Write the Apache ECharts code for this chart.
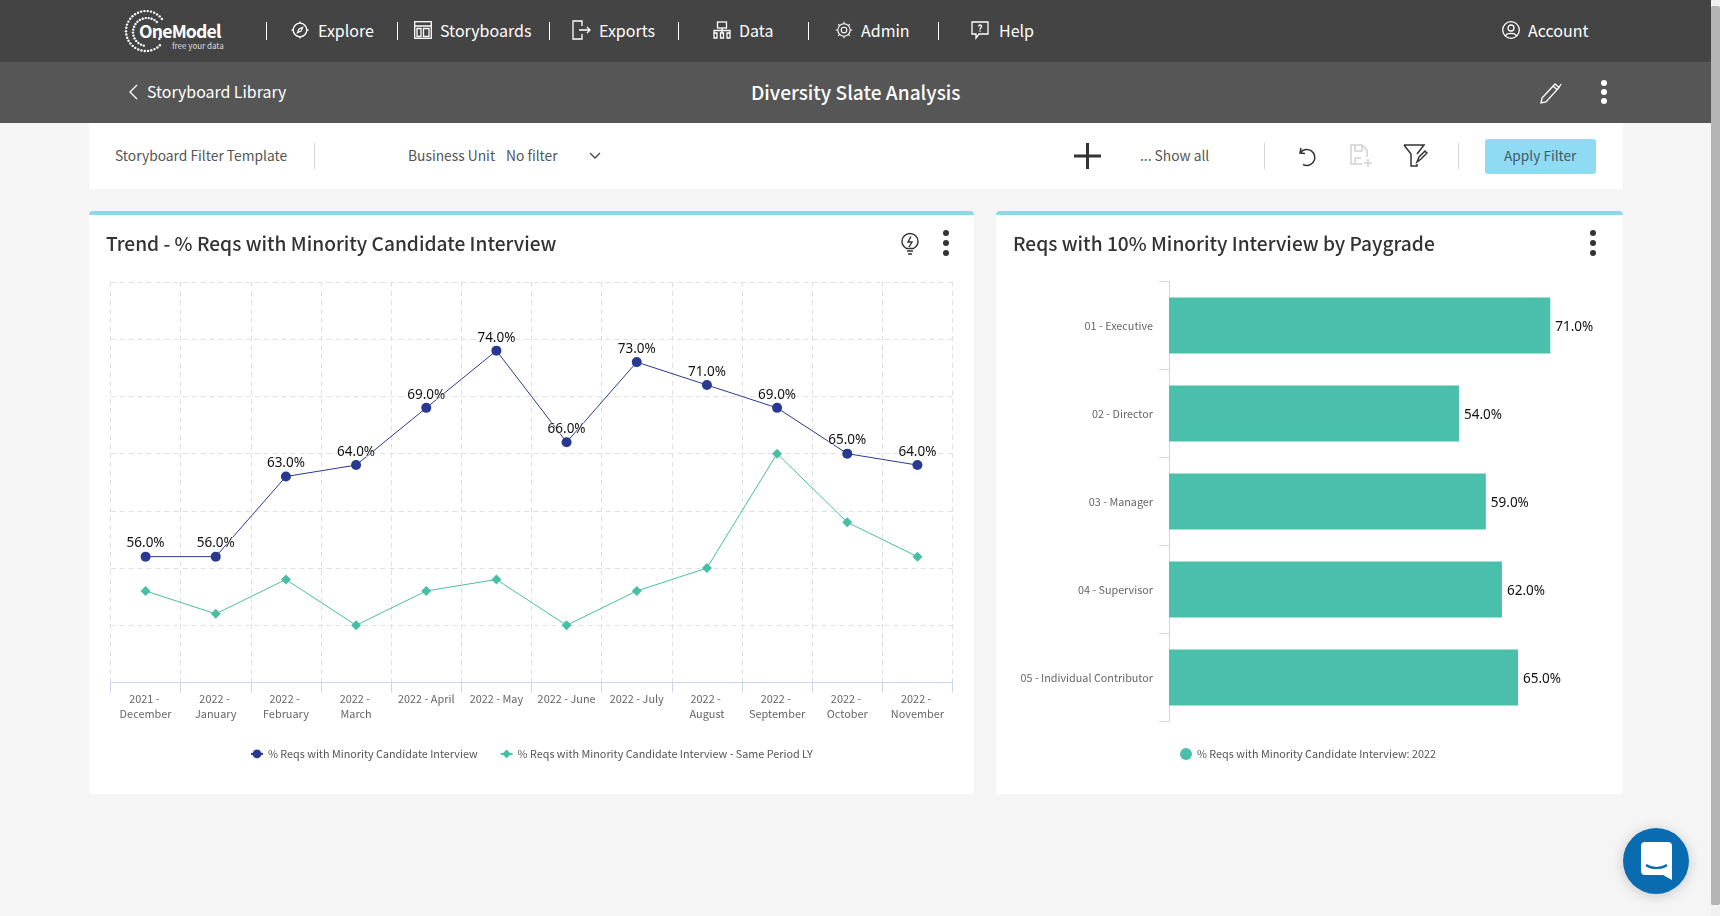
<!DOCTYPE html>
<html>
<head>
<meta charset="utf-8">
<title>Diversity Slate Analysis</title>
<script src="https://cdn.jsdelivr.net/npm/echarts@6/dist/echarts.min.js"></script>
<style>
html,body{margin:0;padding:0;width:1720px;height:916px;overflow:hidden;background:#f5f5f5;font-family:"Noto Sans CJK SC","Noto Sans",sans-serif;}
.abs,.t,.sep,svg.i{position:absolute;}
.t{white-space:nowrap;line-height:1;transform:translateY(-50%);}
#top1{position:absolute;left:0;top:0;width:1711px;height:62px;background:#444;}
#top2{position:absolute;left:0;top:62px;width:1711px;height:61px;background:#565656;}
#scroll{position:absolute;left:1711px;top:0;width:9px;height:916px;background:#f1f1f1;}
#thumb{position:absolute;left:1711px;top:6px;width:9px;height:899px;background:#b4b4b4;border-radius:2px;}
.nav{color:#fff;font-size:16px;top:30px;}
.sep{width:1px;background:#fff;top:22px;height:18px;}
.fsep{width:1px;background:#d5d5d5;top:143px;height:26px;}
.filter{color:#555;font-size:13.8px;top:155.5px;}
.card{position:absolute;background:#fff;top:211px;height:583px;border-radius:4px 4px 2px 2px;border-top:4px solid #8fd8ea;box-sizing:border-box;}
.title{color:#333;font-size:19.15px;font-weight:500;top:244px;}
.dot{position:absolute;width:6px;height:6px;border-radius:3px;}
#chartLeft{position:absolute;left:89px;top:215px;width:885px;height:579px;}
#chartRight{position:absolute;left:996px;top:215px;width:627px;height:579px;}
#chat{position:absolute;left:1623px;top:828px;width:66px;height:66px;border-radius:33px;background:#0a6cb0;box-shadow:0 2px 14px rgba(0,0,0,.18);}
svg.i{fill:none;stroke:#fff;stroke-width:1.3;}
</style>
</head>
<body>
<div id="top1"></div>
<div id="top2"></div>
<div id="scroll"></div>
<div id="thumb"></div>

<!-- 顶部导航 -->
<svg class="i" id="logoDots" style="left:124px;top:8px;stroke:none;fill:#fff" width="44" height="46"></svg>
<div class="t" style="left:139px;top:31px;color:#fff;font-size:17.6px;font-weight:700;letter-spacing:-0.8px">OneModel</div>
<div class="t" style="left:172px;top:46px;color:#ddd;font-size:8px">free your data</div>

<div class="sep" style="left:266px"></div>
<svg class="i" style="left:291px;top:21px" width="18" height="18" viewBox="0 0 18 18"><circle cx="9" cy="9" r="6.8"/><path d="M9 0.5v2M9 15.5v2M0.5 9h2M15.5 9h2M11.5 6.5L10 10 6.5 11.5 8 8z"/></svg>
<div class="t nav" style="left:318px">Explore</div>
<div class="sep" style="left:397px"></div>
<svg class="i" style="left:414px;top:21px" width="18" height="18" viewBox="0 0 18 18"><rect x="0.7" y="0.7" width="16.6" height="16.6"/><path d="M0.7 5h16.6M3 7.5h4v8H3zM9.5 7.5h5.500v8H9.500z"/></svg>
<div class="t nav" style="left:440px">Storyboards</div>
<div class="sep" style="left:549px"></div>
<svg class="i" style="left:572px;top:20px" width="20" height="20" viewBox="0 0 20 20"><path d="M10 6V1H1v18h9v-5M7 10h11M15 7l3 3-3 3"/></svg>
<div class="t nav" style="left:599px">Exports</div>
<div class="sep" style="left:678px"></div>
<svg class="i" style="left:713px;top:21px" width="18" height="18" viewBox="0 0 18 18"><rect x="4.500" y="1" width="9" height="6"/><path d="M1 12V9.500h16V12M9 7v5M1 12h3v5H1zM7.500 12h3v5h-3zM14 12h3v5h-3z"/></svg>
<div class="t nav" style="left:739px">Data</div>
<div class="sep" style="left:808px"></div>
<svg class="i" style="left:835px;top:21px;stroke-width:1.1" width="18" height="18" viewBox="0 0 18 18"><circle cx="9" cy="9" r="2.800"/><circle cx="9" cy="9" r="6.200"/><path d="M9 .8v2M9 15.200v2M.8 9h2M15.200 9h2M3.200 3.200l1.400 1.400M13.400 13.400l1.400 1.400M14.800 3.200l-1.400 1.400M4.600 13.400l-1.400 1.400"/></svg>
<div class="t nav" style="left:861px">Admin</div>
<div class="sep" style="left:938px"></div>
<svg class="i" style="left:971px;top:21px" width="18" height="19" viewBox="0 0 18 19"><path d="M1 1h16v12H8l-3 4v-4H1z"/><path d="M7.500 5.500c0-2 3-2 3 0 0 1.300-1.500 1.300-1.500 3M9 9.500v1.200"/></svg>
<div class="t nav" style="left:999px">Help</div>
<svg class="i" style="left:1502px;top:21px" width="18" height="18" viewBox="0 0 18 18"><circle cx="9" cy="9" r="8.300"/><circle cx="9" cy="7" r="3"/><path d="M3.500 15c1-3.500 10-3.500 11 0"/></svg>
<div class="t nav" style="left:1528px">Account</div>

<!-- 第二栏 -->
<svg class="i" style="left:127px;top:84px" width="12" height="16" viewBox="0 0 12 16"><path d="M10 1L3 8l7 7"/></svg>
<div class="t" style="left:147px;top:92px;color:#fff;font-size:15.9px">Storyboard Library</div>
<div class="t" style="left:751px;top:93px;color:#fff;font-size:19.1px;font-weight:500">Diversity Slate Analysis</div>
<svg class="i" style="left:1540px;top:82px" width="23" height="22" viewBox="0 0 23 22"><path d="M1 21l1-5L15 2l4 3.500L6 20zM13 4l4.500 4M19 5.500L21 2"/></svg>
<div class="dot" style="left:1601px;top:80px;background:#fff"></div>
<div class="dot" style="left:1601px;top:89px;background:#fff"></div>
<div class="dot" style="left:1601px;top:98px;background:#fff"></div>

<!-- 过滤栏 -->
<div class="abs" style="left:89px;top:123px;width:1534px;height:66px;background:#fff"></div>
<div class="t filter" style="left:115px">Storyboard Filter Template</div>
<div class="sep fsep" style="left:314px"></div>
<div class="t filter" style="left:408px">Business Unit</div>
<div class="t filter" style="left:506px">No filter</div>
<svg class="i" style="left:589px;top:152px;stroke:#444" width="12" height="8" viewBox="0 0 12 8"><path d="M1 1l5 5 5-5"/></svg>
<svg class="i" style="left:1074px;top:143px;stroke:#333;stroke-width:3" width="27" height="26" viewBox="0 0 27 26"><path d="M0 13h27M13.500 0v26"/></svg>
<div class="t filter" style="left:1140px">... Show all</div>
<div class="sep fsep" style="left:1264px"></div>
<svg class="i" style="left:1296px;top:145px;stroke:#333;stroke-width:1.500" width="21" height="22" viewBox="0 0 21 22"><path d="M5 3l-1 5 5 .5M4.500 7.500A8 8 0 1 1 7 19.500"/></svg>
<svg class="i" style="left:1350px;top:144px;stroke:#d2d2d2;stroke-width:1.500" width="24" height="24" viewBox="0 0 24 24"><path d="M12 20H1V1h11l5 5v7M5 1v6h7V1M5 20v-6h6M18 15v8M14 19h8"/></svg>
<svg class="i" style="left:1403px;top:144px;stroke:#333;stroke-width:1.500" width="25" height="24" viewBox="0 0 25 24"><path d="M1 1h20l-7 9M1 1l7 9v12h6v-2M14 18l2-5 6-6 2 2-6 6z"/></svg>
<div class="sep fsep" style="left:1458px"></div>
<div class="abs" style="left:1485px;top:139px;width:111px;height:35px;background:#8fdbf3;border-radius:3px"></div>
<div class="t" style="left:1504px;top:155.5px;color:#3f5a68;font-size:13.7px">Apply Filter</div>

<!-- 卡片 -->
<div class="card" style="left:89px;width:885px"></div>
<div class="card" style="left:996px;width:627px"></div>
<div id="chartLeft"></div>
<div id="chartRight"></div>
<div class="t title" style="left:106px">Trend - % Reqs with Minority Candidate Interview</div>
<div class="t title" style="left:1013px">Reqs with 10% Minority Interview by Paygrade</div>
<svg class="i" style="left:901px;top:232px;stroke:#333;stroke-width:1.400" width="18" height="24" viewBox="0 0 18 24"><path d="M5.500 16.500C3 15 1 12.500 1 9.500a8 8 0 0 1 16 0c0 3-2 5.500-4.500 7zM6 19h6M7 22h4M10 4.500L7 10h4l-3 5"/></svg>
<div class="dot" style="left:943px;top:230px;background:#333"></div>
<div class="dot" style="left:943px;top:240px;background:#333"></div>
<div class="dot" style="left:943px;top:250px;background:#333"></div>
<div class="dot" style="left:1590px;top:230px;background:#333"></div>
<div class="dot" style="left:1590px;top:240px;background:#333"></div>
<div class="dot" style="left:1590px;top:250px;background:#333"></div>

<div id="chat"></div>
<svg class="i" style="left:1641px;top:842px;stroke:none;fill:#fff" width="31" height="38" viewBox="0 0 31 38"><path d="M4 0h23a4 4 0 0 1 4 4v34l-9-5H4a4 4 0 0 1-4-4V4a4 4 0 0 1 4-4z"/><path d="M5 23c6 4 15 4 21 0" fill="none" stroke="#0a6cb0" stroke-width="2.200"/></svg>

<script>
//趋势图数据
var months = ["2021 - December","2022 - January","2022 - February","2022 - March","2022 - April","2022 - May","2022 - June","2022 - July","2022 - August","2022 - September","2022 - October","2022 - November"];
var reqsInterview = [56,56,63,64,69,74,66,73,71,69,65,64];
var reqsSamePeriodLY = [53,51,54,50,53,54,50,53,55,65,59,56];
//职级图数据
var paygrades = ["01 - Executive","02 - Director","03 - Manager","04 - Supervisor","05 - Individual Contributor"];
var paygradeValues = [71,54,59,62,65];

var FONT = '"Noto Sans CJK SC"';

$init();

function $init() {
	drawLogo();
	initChart_line("chartLeft");
	initChart_bar("chartRight");
}
/**
 * 折线图
 */
function initChart_line(selector) {
	var myChart = echarts.init(document.getElementById(selector));
	var option = {
		animation: false,
		textStyle: {fontFamily: FONT},
		legend: {
			left: 161,
			top: 533.5,
			itemWidth: 12,
			itemHeight: 11,
			itemGap: 22,
			padding: 0,
			textStyle: {fontFamily: FONT, fontSize: 10.8, color: '#555'},
			data: ['% Reqs with Minority Candidate Interview','% Reqs with Minority Candidate Interview - Same Period LY']
		},
		grid: {left: 21.5, top: 67, width: 842, height: 400.5, containLabel: false},
		xAxis: {
			type: 'category',
			data: months,
			axisLine: {show: true, lineStyle: {color: '#ccd6eb', width: 1}},
			axisTick: {show: true, length: 10, lineStyle: {color: '#ccd6eb'}},
			axisLabel: {interval: 0, margin: 9, width: 58, overflow: 'break', lineHeight: 15, fontFamily: FONT, fontSize: 10.9, color: '#666'},
			splitLine: {show: true, lineStyle: {color: '#e0e0e0', type: [5,4], width: 1}}
		},
		yAxis: {
			type: 'value',
			min: 45,
			max: 80,
			interval: 5,
			axisLine: {show: false},
			axisTick: {show: false},
			axisLabel: {show: false},
			splitLine: {lineStyle: {color: '#e0e0e0', type: [5,4], width: 1}}
		},
		series: [
			{
				name: '% Reqs with Minority Candidate Interview',
				type: 'line',
				data: reqsInterview,
				symbol: 'circle',
				symbolSize: 10,
				z: 3,
				lineStyle: {color: '#2a3990', width: 1},
				itemStyle: {color: '#2a3990'},
				label: {
					show: true,
					position: 'top',
					distance: 1,
					formatter: function(p) { return p.value.toFixed(1) + '%'; },
					fontFamily: '"Noto Sans"',
					fontSize: 13.5,
					color: '#111',
					textBorderColor: '#fff',
					textBorderWidth: 1
				}
			},
			{
				name: '% Reqs with Minority Candidate Interview - Same Period LY',
				type: 'line',
				data: reqsSamePeriodLY,
				symbol: 'diamond',
				symbolSize: 10,
				z: 2,
				lineStyle: {color: '#47bfa5', width: 1},
				itemStyle: {color: '#47bfa5'}
			}
		]
	};
	myChart.setOption(option, true);
}
/**
 * 柱状图
 */
function initChart_bar(selector) {
	var myChart = echarts.init(document.getElementById(selector));
	var option = {
		animation: false,
		textStyle: {fontFamily: FONT},
		legend: {
			left: 184,
			top: 533,
			itemWidth: 12,
			itemHeight: 12,
			padding: 0,
			icon: 'circle',
			textStyle: {fontFamily: FONT, fontSize: 10.8, color: '#555'}
		},
		grid: {left: 173, top: 66.5, width: 429.6, height: 440},
		xAxis: {
			type: 'value',
			min: 0,
			max: 80,
			show: false
		},
		yAxis: {
			type: 'category',
			inverse: true,
			data: paygrades,
			axisLine: {show: true, lineStyle: {color: '#ccd6eb', width: 1}},
			axisTick: {show: true, length: 10, lineStyle: {color: '#d8d8d8'}},
			axisLabel: {margin: 16, fontFamily: FONT, fontSize: 10.8, color: '#666'}
		},
		series: [
			{
				name: '% Reqs with Minority Candidate Interview: 2022',
				type: 'bar',
				data: paygradeValues,
				barWidth: 56,
				itemStyle: {color: '#4abfab'},
				label: {
					show: true,
					position: 'right',
					distance: 5,
					offset: [0, 2],
					formatter: function(p) { return p.value.toFixed(1) + '%'; },
					fontFamily: '"Noto Sans"',
					fontSize: 13.5,
					color: '#111'
				}
			}
		]
	};
	myChart.setOption(option, true);
}
/**
 * 画logo的点环
 */
function drawLogo() {
	var svg = document.getElementById("logoDots");
	var html = "";
	var rings = [[22,23,20,30,-0.4,4.6],[23,24,14,24,0.6,5.8],[24,26,9,16,1.5,4.4]];
	for (var r = 0; r < rings.length; r++) {
		var c = rings[r];
		for (var i = 0; i < c[3]; i++) {
			var a = c[4] + (c[5] - c[4]) * i / c[3];
			var px = c[0] + c[2] * Math.cos(a + 1.2);
			var py = c[1] + c[2] * Math.sin(a + 1.2);
			//中间字母的位置不画点
			if (px > 14 && py > 15 && py < 30) continue;
			html += '<circle cx="' + px.toFixed(1) + '" cy="' + py.toFixed(1) + '" r="1.2"/>';
		}
	}
	svg.innerHTML = html;
}
</script>
</body>
</html>
